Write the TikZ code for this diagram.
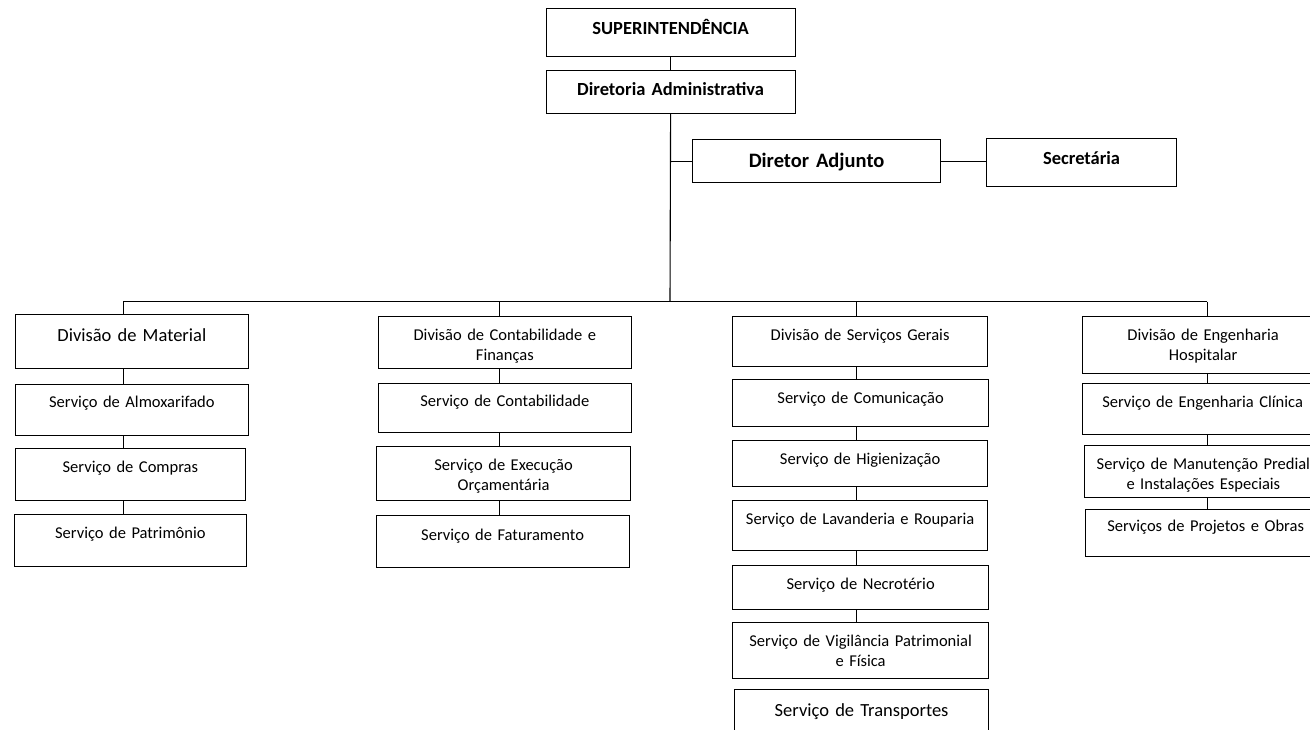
\documentclass[tikz,border=0pt]{standalone}
\usepackage{fontspec}
\setmainfont{Carlito}
\usepackage{tikz}
\newcommand{\fsmall}{\fontsize{16.5}{20}\selectfont}
\newcommand{\flarge}{\fontsize{18.5}{20}\selectfont}
\newcommand{\fhuge}{\fontsize{20.5}{24}\selectfont}
\tikzset{
  x=1pt, y=-1pt,
  unit/.style={draw, line width=1.2pt, inner sep=0pt, align=center,
    anchor=north west, font=\fsmall},
  head/.style={unit, font=\flarge\bfseries},
  dims/.style n args={3}{text width=#1pt, text height=#2pt, text depth=#3pt},
  link/.style={line width=1.1pt}
}
\begin{document}
\begin{tikzpicture}
  \clip (0,0) rectangle (1310,729);

  % top of the chart
  \node[head, dims={249}{26}{22}]                     (sup)  at (545.5,8)   {SUPERINTENDÊNCIA};
  \node[head, dims={249}{25}{18}]                     (dadm) at (545.5,70)  {Diretoria Administrativa};
  \node[head, dims={248}{27.5}{15.5}, font=\fhuge\bfseries] (adj) at (692,139) {Diretor Adjunto};
  \node[head, dims={190}{26}{22}]                     (sec)  at (986,138)   {Secretária};

  % bus and columns
  \coordinate (bus) at (670,301.5);
  \coordinate (c1)  at (123.3,301.5);
  \coordinate (c2)  at (499.6,301.5);
  \coordinate (c3)  at (856.4,301.5);
  \coordinate (c4)  at (1207.4,301.5);

  % Divisao de Material
  \node[unit, dims={232.5}{26.5}{27.5}, font=\flarge] (dm)   at (15,314)    {Divisão de Material};
  \node[unit, dims={232.5}{23.5}{27.5}]               (salm) at (15,383.5)  {Serviço de Almoxarifado};
  \node[unit, dims={230.5}{24}{28}]                   (scom) at (14.5,448)  {Serviço de Compras};
  \node[unit, dims={232.5}{24}{28}]                   (spat) at (13.5,513.5) {Serviço de Patrimônio};

  % Divisao de Contabilidade
  \node[unit, dims={253.5}{24}{28.5}]                 (dcf)  at (377.5,315.5) {Divisão de Contabilidade e\\Finanças};
  \node[unit, dims={253.5}{23.5}{26}]                 (scnt) at (377.5,382.5) {Serviço de Contabilidade};
  \node[unit, dims={254}{24}{30}]                     (sexe) at (376,445.5)   {Serviço de Execução\\Orçamentária};
  \node[unit, dims={253}{24.5}{27}]                   (sfat) at (375.5,515)   {Serviço de Faturamento};

  % Divisao de Servicos Gerais
  \node[unit, dims={255}{24}{26.5}]                   (dsg)  at (732,315.5) {Divisão de Serviços Gerais};
  \node[unit, dims={256}{24.5}{23}]                   (scmu) at (732,378.5) {Serviço de Comunicação};
  \node[unit, dims={255}{24}{22}]                     (shig) at (732,439.5) {Serviço de Higienização};
  \node[unit, dims={255}{24}{26.5}]                   (slav) at (732,499.5) {Serviço de Lavanderia e Rouparia};
  \node[unit, dims={256}{24}{20.5}]                   (snec) at (732,564.5) {Serviço de Necrotério};
  \node[unit, dims={256}{24}{32}]                     (svig) at (732,622)   {Serviço de Vigilância Patrimonial\\e Física};
  \node[unit, dims={254}{27}{30}, font=\flarge]       (stra) at (734,689)   {Serviço de Transportes};

  % Divisao de Engenharia Hospitalar
  \node[unit, dims={241}{24}{33}]                     (deh)  at (1082,315.5)  {Divisão de Engenharia\\Hospitalar};
  \node[unit, dims={240}{23.5}{27}]                   (secl) at (1082,383)    {Serviço de Engenharia Clínica};
  \node[unit, dims={238.5}{24}{28.5}]                 (sman) at (1083.5,444.5) {Serviço de Manutenção Predial\\e Instalações Especiais};
  \node[unit, dims={240}{22.5}{25}]                   (spro) at (1085,508.5)  {Serviços de Projetos e Obras};

  % links
  \draw[link] (sup.south) -- (dadm.north);
  \draw[link] (dadm.south) -- (bus);
  \draw[link] (adj.west -| bus) -- (adj.west);
  \draw[link] (adj.east) -- (adj.east -| sec.west);
  \draw[link] (c1) -- (c4);

  \draw[link] (c1) -- (dm.north -| c1);
  \draw[link] (dm.south -| c1) -- (salm.north -| c1);
  \draw[link] (salm.south -| c1) -- (scom.north -| c1);
  \draw[link] (scom.south -| c1) -- (spat.north -| c1);

  \draw[link] (c2) -- (dcf.north -| c2);
  \draw[link] (dcf.south -| c2) -- (scnt.north -| c2);
  \draw[link] (scnt.south -| c2) -- (sexe.north -| c2);
  \draw[link] (sexe.south -| c2) -- (sfat.north -| c2);

  \draw[link] (c3) -- (dsg.north -| c3);
  \draw[link] (dsg.south -| c3) -- (scmu.north -| c3);
  \draw[link] (scmu.south -| c3) -- (shig.north -| c3);
  \draw[link] (shig.south -| c3) -- (slav.north -| c3);
  \draw[link] (slav.south -| c3) -- (snec.north -| c3);
  \draw[link] (snec.south -| c3) -- (svig.north -| c3);

  \draw[link] (c4) -- (deh.north -| c4);
  \draw[link] (deh.south -| c4) -- (secl.north -| c4);
  \draw[link] (secl.south -| c4) -- (sman.north -| c4);
  \draw[link] (sman.south -| c4) -- (spro.north -| c4);
\end{tikzpicture}
\end{document}
